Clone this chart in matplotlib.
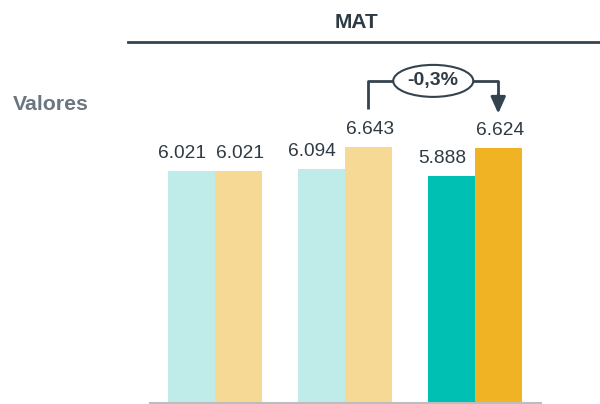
import matplotlib
matplotlib.use("Agg")
from matplotlib import pyplot as plt
from matplotlib.patches import Ellipse
import numpy as np

plt.rcParams['font.family'] = ['Liberation Sans', 'DejaVu Sans']

# MAT values, three periods, two series each
groups = ["P1", "P2", "P3"]
serie_a = [6.021, 6.094, 5.888]
serie_b = [6.021, 6.643, 6.624]
labels_a = ["6.021", "6.094", "5.888"]
labels_b = ["6.021", "6.643", "6.624"]
change_label = "-0,3%"

colors_a = ["#bfece9", "#bfece9", "#00bfb3"]
colors_b = ["#f6d994", "#f6d994", "#f0b323"]
TXT = "#2e3b44"
DARK = "#34434d"

W = 0.358
PX_PER_UNIT = 38.47  # vertical pixels per value unit

fig = plt.figure(figsize=(6.0, 4.04), dpi=100)
ax = fig.add_axes([150/600, 1/404, 391/600, 403/404])

x = np.arange(len(groups))
ax.bar(x - W/2, serie_a, width=W, color=colors_a, linewidth=0)
ax.bar(x + W/2, serie_b, width=W, color=colors_b, linewidth=0)

for xi, v, t in zip(x, serie_a, labels_a):
    ax.annotate(t, (xi - W/2, v), xytext=(-7, 6.5), textcoords="offset points",
                ha="center", va="bottom", fontsize=13.8, color=TXT)
for xi, v, t in zip(x, serie_b, labels_b):
    ax.annotate(t, (xi + W/2, v), xytext=(1.5, 6.5), textcoords="offset points",
                ha="center", va="bottom", fontsize=13.8, color=TXT)

ax.set_xlim(-0.5, 2.508)
ax.set_ylim(0, 403/PX_PER_UNIT)
for s in ["top", "left", "right"]:
    ax.spines[s].set_visible(False)
ax.spines["bottom"].set_color("#bdbdbd")
ax.spines["bottom"].set_linewidth(1.5)
ax.set_xticks([])
ax.set_yticks([])

# change bracket from P2 to P3 of the second series
x0 = x[1] + W/2
x1 = x[2] + W/2
y_top = max(serie_b[1], serie_b[2]) + 1.73
y_start = serie_b[1] + 1.0
y_tip = serie_b[2] + 0.9
xm = (x0 + x1) / 2
ax.plot([x0, x0, x1, x1], [y_start, y_top, y_top, y_tip + 0.45],
        color=DARK, lw=2, solid_capstyle="butt", clip_on=False)
ax.annotate("", xy=(x1, y_tip), xytext=(x1, y_tip + 0.5),
            arrowprops=dict(arrowstyle="-|>,head_length=1.0,head_width=0.45",
                            color=DARK, lw=2, shrinkA=0, shrinkB=0))
ax.add_patch(Ellipse((xm, y_top), 80/130, 32/PX_PER_UNIT, facecolor="white",
                     edgecolor=DARK, lw=1.5, zorder=5, clip_on=False))
ax.text(xm, y_top, change_label, ha="center", va="center", fontsize=14,
        fontweight="bold", color=TXT, zorder=6)

# header
fig.text(357/600, 1 - 22.5/404, "MAT", ha="center", va="center", fontsize=15,
         fontweight="bold", color=TXT)
fig.add_artist(plt.Line2D([128/600, 1.0], [1 - 41.7/404, 1 - 41.7/404],
                          color=DARK, lw=2))
fig.text(13/600, 1 - 104.5/404, "Valores", ha="left", va="center", fontsize=15.3,
         fontweight="bold", color="#6b7780")

fig.savefig("out.png", dpi=100)
